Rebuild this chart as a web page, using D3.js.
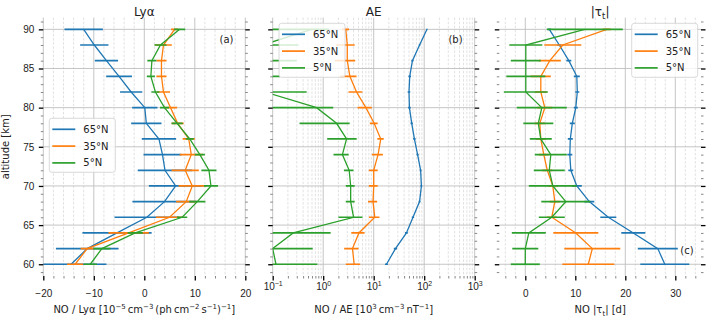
<!DOCTYPE html>
<html>
<head>
<meta charset="utf-8">
<script src="https://cdn.jsdelivr.net/npm/d3@7"></script>
<style>
  body { margin: 0; background: #fff; }
  svg { font-family: "DejaVu Sans", sans-serif; }
</style>
</head>
<body>
<div id="chart"></div>
<script>
// altitudes [km], bottom to top
const altitudes = [60, 62, 64, 66, 68, 70, 72, 74, 76, 78, 80, 82, 84, 86, 88, 90];
const latitudes = ['65°N', '35°N', '5°N'];
const colors = ['#1f77b4', '#ff7f0e', '#2ca02c'];

// (a) NO / Lyα
const lya65 = [-14.5, -11.3, -5.4, 0.5, 4.0, 6.2, 4.1, 3.6, 2.9, 0.4, 0.1, -2.6, -5.0, -7.5, -9.9, -12.0];
const lya65Err = [7.0, 6.2, 6.85, 6.4, 6.35, 5.3, 5.4, 3.75, 3.4, 3.0, 2.5, 2.2, 2.55, 2.3, 2.8, 3.8];
const lya35 = [-13.7, -11.3, -3.1, 5.0, 8.3, 9.5, 8.1, 9.3, 8.8, 6.6, 5.2, 3.8, 3.4, 3.4, 3.8, 6.0];
const lya35Err = [1.6, 1.3, 4.0, 2.7, 2.0, 2.7, 2.7, 2.3, 1.2, 1.2, 1.3, 1.3, 1.0, 1.0, 1.65, 0.7];
const lya5 = [-10.7, -8.4, -1.8, 7.5, 10.5, 13.2, 12.8, 11.0, 9.0, 6.5, 4.0, 2.2, 1.3, 1.5, 3.2, 7.0];
const lya5Err = [1.3, 1.7, 1.5, 1.0, 1.6, 1.4, 1.5, 1.0, 0.8, 1.1, 0.9, 0.8, 0.8, 0.9, 1.2, 1.1];

// (b) NO / AE
const ae65 = [17.9, 27, 44.5, 60, 81, 88, 85, 74, 64, 56.6, 51, 50, 51.7, 58.5, 81, 113.6];
const ae65Err = [1.2, 2.0, 2.8, 3.2, 3.5, 3.5, 3.5, 3.5, 3.5, 3.0, 3.0, 3.0, 3.0, 3.0, 3.0, 2.0];
const ae35 = [4.1, 3.8, 5.1, 10.5, 9.7, 10, 10, 12.2, 13.8, 10.2, 7.0, 4.57, 3.37, 3.0, 3.0, 2.8];
const ae35Err = [1.3, 1.2, 1.5, 2.5, 2.0, 2.0, 2.0, 3.0, 2.0, 1.8, 2.2, 1.4, 1.2, 1.3, 1.2, 0.45];
const ae5 = [0.116, 0.1, 0.255, 4.0, 3.5, 3.5, 3.27, 2.4, 2.9, 1.84, 0.74, 0.07, 0.05, 0.05, 0.063, 0.59];
const ae5Err = [0.65, 0.52, 1.15, 2.0, 0.7, 0.7, 0.7, 0.8, 1.7, 1.5, 0.84, 0.4, 0.09, 0.25, 0.26, 0.7];

// (c) NO |tau_t|
const tau65 = [27.9, 26.5, 21.6, 16.6, 12.8, 10.3, 9.1, 8.9, 9.0, 9.4, 10.1, 10.4, 10.3, 8.7, 6.8, 4.8];
const tau65Err = [4.9, 4.0, 2.4, 1.6, 1.0, 1.0, 0.5, 0.5, 0.5, 0.5, 0.4, 0.4, 0.6, 0.5, 0.4, 0.3];
const tau35 = [12.6, 13.4, 10.1, 5.3, 5.9, 5.5, 4.4, 3.7, 3.1, 2.9, 3.9, 3.1, 3.1, 4.9, 7.5, 16.3];
const tau35Err = [5.2, 5.6, 4.5, 1.0, 1.0, 1.0, 1.0, 1.0, 1.0, 1.0, 1.5, 1.2, 2.0, 2.2, 3.7, 0.8];
const tau5 = [0.0, 0.0, 0.7, 5.3, 8.1, 5.5, 4.8, 5.1, 3.1, 2.6, 3.3, 0.1, 0.1, 0.1, 0.1, 11.9];
const tau5Err = [2.9, 2.6, 3.4, 2.6, 4.9, 4.8, 3.1, 3.2, 2.2, 3.0, 5.0, 4.4, 3.9, 3.0, 3.3, 7.6];

const yTicks = [60, 65, 70, 75, 80, 85, 90];
const lyaTicks = [-20, -10, 0, 10, 20];
const aeTicks = [0.1, 1, 10, 100, 1000];
const tauTicks = [0, 10, 20, 30];

const W = 709, H = 319;
const yTop = 17.6, yBottom = 276;

const svg = d3.select('#chart').append('svg').attr('width', W).attr('height', H);
const y = d3.scaleLinear().domain([58.5, 91.5]).range([yBottom, yTop]);

// text with super/subscripts
function richText(sel, parts, size) {
  let shift = 0;
  parts.forEach(p => {
    const target = p.sup ? -0.4 * size : p.sub ? 0.25 * size : 0;
    sel.append('tspan')
      .attr('dy', target - shift)
      .attr('font-size', (p.sup || p.sub) ? size * 0.7 : size)
      .text(p.t);
    shift = target;
  });
}

const panels = [
  {
    title: [{t: 'Lyα'}], tag: '(a)', tagPos: [226.5, 43],
    left: 43.3, right: 245.3, log: false, domain: [-20, 20], ticks: lyaTicks,
    minor: d3.range(-20, 20.1, 2),
    vals: [lya65, lya35, lya5], errs: [lya65Err, lya35Err, lya5Err],
    label: [{t: 'NO / Lyα [10'}, {t: '−5', sup: true}, {t: '\u2009cm'}, {t: '−3', sup: true},
            {t: '\u2009(ph\u2009cm'}, {t: '−2', sup: true}, {t: '\u2009s'}, {t: '−1', sup: true},
            {t: ')'}, {t: '−1', sup: true}, {t: ']'}],
    legend: {x: 49.3, y: 118.3, w: 66}
  },
  {
    title: [{t: 'AE'}], tag: '(b)', tagPos: [455.5, 43],
    left: 272.7, right: 474.7, log: true, domain: [0.1, 1000], ticks: aeTicks,
    minor: d3.range(-1, 3).flatMap(e => d3.range(2, 10).map(m => m * Math.pow(10, e))),
    vals: [ae65, ae35, ae5], errs: [ae65Err, ae35Err, ae5Err],
    label: [{t: 'NO / AE [10'}, {t: '3', sup: true}, {t: '\u2009cm'}, {t: '−3', sup: true},
            {t: '\u2009nT'}, {t: '−1', sup: true}, {t: ']'}],
    legend: {x: 279, y: 23.3, w: 66}
  },
  {
    title: [{t: '|τ'}, {t: 't', sub: true}, {t: '|'}], tag: '(c)', tagPos: [687, 254],
    left: 499.3, right: 701, log: false, domain: [-5.2, 35.14], ticks: tauTicks,
    minor: d3.range(-4, 35, 2),
    vals: [tau65, tau35, tau5], errs: [tau65Err, tau35Err, tau5Err],
    label: [{t: 'NO |τ'}, {t: 't', sub: true}, {t: '| [d]'}],
    legend: {x: 631.7, y: 23.3, w: 66}
  }
];

panels.forEach((p, pi) => {
  const x = (p.log ? d3.scaleLog() : d3.scaleLinear()).domain(p.domain).range([p.left, p.right]);
  const g = svg.append('g');
  const clipId = `clip-${pi}`;
  svg.append('clipPath').attr('id', clipId).append('rect')
    .attr('x', p.left).attr('y', yTop).attr('width', p.right - p.left).attr('height', yBottom - yTop);

  // grid
  const grid = g.append('g');
  grid.selectAll('.xminor').data(p.minor.filter(v => !p.ticks.includes(v))).enter().append('line')
    .attr('x1', d => x(d)).attr('x2', d => x(d)).attr('y1', yTop).attr('y2', yBottom)
    .attr('stroke', '#d4d4d4').attr('stroke-width', 0.7).attr('stroke-dasharray', '2.5,1.6');
  grid.selectAll('.xmajor').data(p.ticks).enter().append('line')
    .attr('x1', d => x(d)).attr('x2', d => x(d)).attr('y1', yTop).attr('y2', yBottom)
    .attr('stroke', '#c0c0c0').attr('stroke-width', 0.9);
  grid.selectAll('.ymajor').data(yTicks).enter().append('line')
    .attr('x1', p.left).attr('x2', p.right).attr('y1', d => y(d)).attr('y2', d => y(d))
    .attr('stroke', '#c0c0c0').attr('stroke-width', 0.9);

  // data
  const data = g.append('g').attr('clip-path', `url(#${clipId})`);
  const lo = (v, e) => p.log && v - e <= 0 ? p.domain[0] / 100 : v - e;
  p.vals.forEach((vals, si) => {
    const pts = altitudes.map((a, i) => ({a, v: vals[i], e: p.errs[si][i]}));
    data.append('g').selectAll('line').data(pts).enter().append('line')
      .attr('x1', d => x(lo(d.v, d.e))).attr('x2', d => x(d.v + d.e))
      .attr('y1', d => y(d.a)).attr('y2', d => y(d.a))
      .attr('stroke', colors[si]).attr('stroke-width', 1.7);
    data.append('path').datum(pts)
      .attr('d', d3.line().x(d => x(d.v)).y(d => y(d.a)))
      .attr('fill', 'none').attr('stroke', colors[si]).attr('stroke-width', 1.3);
  });

  // axes
  const styleAxis = (ax, minor) => {
    ax.select('.domain').remove();
    ax.selectAll('.tick line').attr('stroke', minor ? '#555' : '#000').attr('stroke-width', minor ? 0.7 : 1.3);
    ax.selectAll('.tick text').attr('font-size', 10).attr('fill', '#222');
  };
  const bx = g.append('g').attr('transform', `translate(0,${yBottom})`)
    .call(d3.axisBottom(x).tickValues(p.ticks).tickSize(4.5).tickPadding(9.5)
      .tickFormat(p.log ? () => '' : d3.format('d')));
  styleAxis(bx, false);
  if (p.log) {
    bx.selectAll('.tick text').each(function (d) {
      const t = d3.select(this);
      t.text(null);
      richText(t, [{t: '10'}, {t: String(Math.round(Math.log10(d))).replace('-', '−'), sup: true}], 10);
    });
  }
  const bxm = g.append('g').attr('transform', `translate(0,${yBottom})`)
    .call(d3.axisBottom(x).tickValues(p.minor.filter(v => !p.ticks.includes(v))).tickSize(2.5).tickFormat(''));
  styleAxis(bxm, true);

  [[d3.axisLeft, p.left], [d3.axisRight, p.right]].forEach(([axisFn, pos], k) => {
    const major = g.append('g').attr('transform', `translate(${pos},0)`)
      .call(axisFn(y).tickValues(yTicks).tickSize(4.5).tickPadding(4.5)
        .tickFormat(pi === 0 && k === 0 ? d3.format('d') : ''));
    styleAxis(major, false);
    const minor = g.append('g').attr('transform', `translate(${pos},0)`)
      .call(axisFn(y).tickValues(d3.range(59, 92).filter(v => v % 5 !== 0)).tickSize(2.5).tickFormat(''));
    styleAxis(minor, true);
  });

  // title, x label, tag
  const cx = (p.left + p.right) / 2;
  richText(g.append('text').attr('x', cx).attr('y', 16).attr('text-anchor', 'middle').attr('fill', '#222'), p.title, 12);
  richText(g.append('text').attr('x', cx).attr('y', 313).attr('text-anchor', 'middle').attr('fill', '#222'), p.label, 10);
  g.append('text').attr('x', p.tagPos[0]).attr('y', p.tagPos[1]).attr('text-anchor', 'middle')
    .attr('font-size', 10).attr('fill', '#222').text(p.tag);

  // legend
  const L = p.legend;
  const lg = g.append('g').attr('transform', `translate(${L.x},${L.y})`);
  lg.append('rect').attr('width', L.w).attr('height', 54).attr('rx', 2.5)
    .attr('fill', '#fff').attr('fill-opacity', 0.8).attr('stroke', '#d0d0d0').attr('stroke-width', 0.8);
  latitudes.forEach((name, i) => {
    const ly = 11 + i * 16.8;
    lg.append('line').attr('x1', 3).attr('x2', 26).attr('y1', ly).attr('y2', ly)
      .attr('stroke', colors[i]).attr('stroke-width', 1.7);
    lg.append('text').attr('x', 34).attr('y', ly + 3.6).attr('font-size', 10).attr('fill', '#222').text(name);
  });
});

svg.append('text').attr('transform', `translate(9,${(yTop + yBottom) / 2}) rotate(-90)`)
  .attr('text-anchor', 'middle').attr('font-size', 10).attr('fill', '#222').text('altitude [km]');
</script>
</body>
</html>
